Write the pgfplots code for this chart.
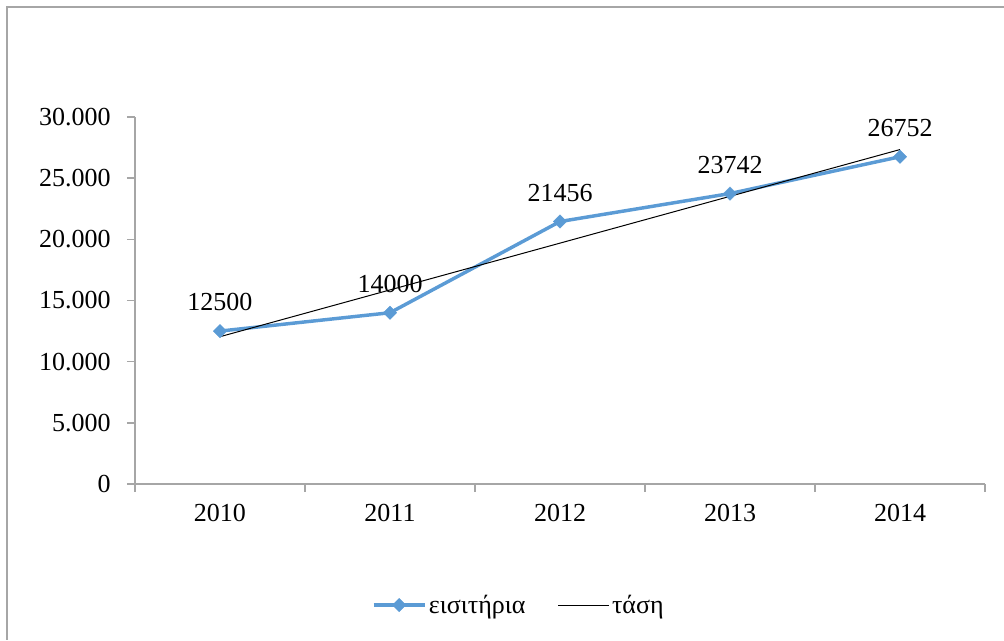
\documentclass[border=0pt]{standalone}
\usepackage{fontspec}
\setmainfont{Liberation Serif}
\usepackage{pgfplots}
\pgfplotsset{compat=1.18}
\definecolor{serblue}{HTML}{5B9BD5}
\definecolor{axgray}{HTML}{A6A6A6}
\newcommand{\chfont}{\fontsize{19.5}{23}\selectfont}
\begin{document}
\begin{tikzpicture}
\path[use as bounding box] (0,0) rectangle (753pt,480pt);
\begin{axis}[
 at={(101.25pt,117pt)}, anchor=south west,
 scale only axis, width=637.5pt, height=275.25pt,
 xmin=-0.5, xmax=4.5, ymin=0, ymax=30000,
 clip=false,
 axis x line*=bottom, axis y line*=left,
 axis line style={draw=axgray, line width=1pt, -},
 tick align=outside,
 major tick length=6pt,
 tick style={draw=axgray, line width=1pt},
 xtick={-0.5,0.5,1.5,2.5,3.5,4.5}, xticklabels={},
 extra x ticks={0,1,2,3,4},
 extra x tick labels={2010,2011,2012,2013,2014},
 extra x tick style={major tick length=0pt, tick style={draw=none}},
 ytick={0,5000,10000,15000,20000,25000,30000},
 scaled y ticks=false,
 /pgf/number format/.cd, fixed, 1000 sep={.}, assume math mode=true, /pgfplots/.cd,
 ticklabel style={font=\chfont},
 xticklabel style={inner sep=0pt, anchor=north, yshift=-15pt},
 yticklabel style={inner sep=0pt, anchor=east, xshift=-12pt},
 legend style={at={(0.452,-0.33)}, anchor=center, draw=none, fill=none, legend columns=2, font=\chfont,
   /tikz/every even column/.append style={column sep=22pt}},
 legend image code/.code={\draw[mark repeat=2,mark phase=2] plot coordinates {(0cm,0cm)(0.67cm,0cm)(1.34cm,0cm)};},
]
\addplot[serblue, line width=2.6pt, mark=square*, mark size=3.6pt,
  mark options={rotate=45, solid, fill=serblue, draw=serblue, line width=0.2pt},
  nodes near coords, point meta=explicit symbolic,
  every node near coord/.append style={font=\chfont, text=black, inner sep=0pt, anchor=south, yshift=15pt}]
  table[meta=label]{
x y label
0 12500 12500
1 14000 14000
2 21456 21456
3 23742 23742
4 26752 26752
};
\addlegendentry{εισιτήρια}
\addplot[black, line width=0.75pt, no marks] coordinates {(0,12040.8) (4,27339.2)};
\addlegendentry{τάση}
\end{axis}
\draw[axgray, line width=1.5pt] (753pt,474.75pt) -- (5.25pt,474.75pt) -- (5.25pt,0pt);
\end{tikzpicture}
\end{document}
